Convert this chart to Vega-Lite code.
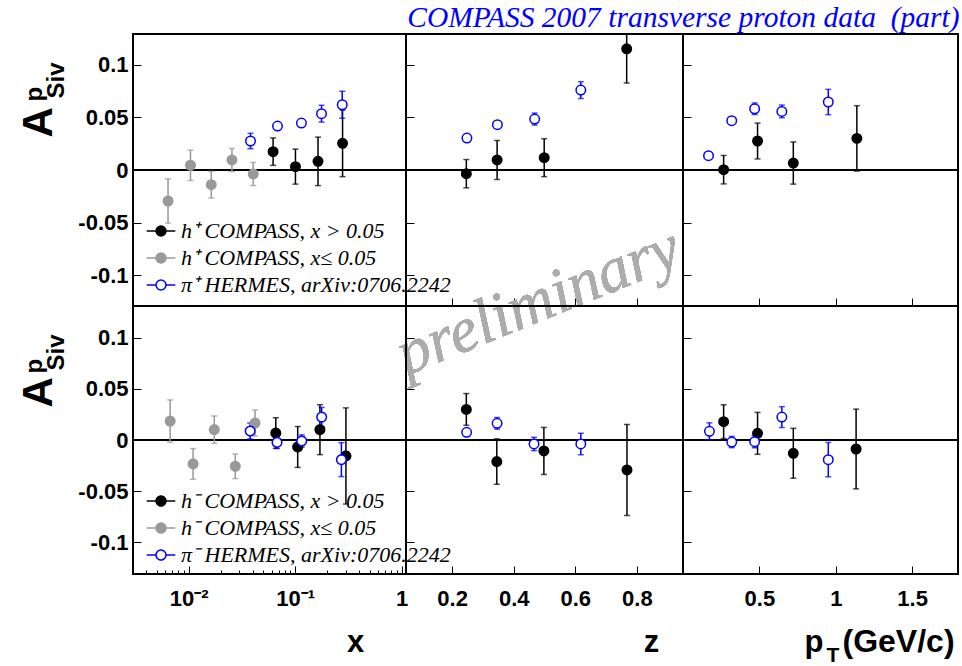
{
  "$schema": "https://vega.github.io/schema/vega-lite/v6.json",
  "background": "white",
  "padding": {"left": 16, "top": 2, "right": 0, "bottom": 0},
  "title": {"text": "COMPASS 2007 transverse proton data\u00a0 (part)", "anchor": "end", "frame": "bounds", "font": "Liberation Serif", "fontStyle": "italic", "fontWeight": "normal", "fontSize": 29.5, "color": "#0000ff", "offset": 0},
  "config": {
    "font": "Liberation Sans",
    "view": {"stroke": "black", "strokeWidth": 2},
    "axis": {"domain": false, "grid": false, "tickColor": "black", "tickWidth": 1, "labelColor": "black", "labelFont": "Liberation Sans", "labelFontWeight": "bold", "labelFontSize": 22, "titleColor": "black", "titleFont": "Liberation Sans", "titleFontWeight": "bold", "labelOverlap": false, "labelFlush": false}
  },
  "datasets": {
    "tl": [
      {"s": "h⁺ COMPASS, x≤ 0.05", "x": 0.0064, "a": -0.0294, "e": 0.021},
      {"s": "h⁺ COMPASS, x≤ 0.05", "x": 0.0104, "a": 0.0045, "e": 0.0145},
      {"s": "h⁺ COMPASS, x≤ 0.05", "x": 0.0163, "a": -0.0139, "e": 0.0126},
      {"s": "h⁺ COMPASS, x≤ 0.05", "x": 0.0255, "a": 0.0095, "e": 0.011},
      {"s": "h⁺ COMPASS, x≤ 0.05", "x": 0.0404, "a": -0.0038, "e": 0.011},
      {"s": "h⁺ COMPASS, x > 0.05", "x": 0.0621, "a": 0.0174, "e": 0.013},
      {"s": "h⁺ COMPASS, x > 0.05", "x": 0.1007, "a": 0.0032, "e": 0.0166},
      {"s": "h⁺ COMPASS, x > 0.05", "x": 0.164, "a": 0.0082, "e": 0.023},
      {"s": "h⁺ COMPASS, x > 0.05", "x": 0.279, "a": 0.0253, "e": 0.0316},
      {"s": "π⁺ HERMES, arXiv:0706.2242", "x": 0.0381, "a": 0.0275, "e": 0.0073},
      {"s": "π⁺ HERMES, arXiv:0706.2242", "x": 0.0683, "a": 0.0417, "e": 0.003},
      {"s": "π⁺ HERMES, arXiv:0706.2242", "x": 0.1146, "a": 0.0445, "e": 0.003},
      {"s": "π⁺ HERMES, arXiv:0706.2242", "x": 0.177, "a": 0.0534, "e": 0.008},
      {"s": "π⁺ HERMES, arXiv:0706.2242", "x": 0.277, "a": 0.0619, "e": 0.0128}
    ],
    "tm": [
      {"s": "h⁺ COMPASS, x > 0.05", "x": 0.246, "a": -0.0035, "e": 0.0134},
      {"s": "h⁺ COMPASS, x > 0.05", "x": 0.346, "a": 0.0095, "e": 0.0185},
      {"s": "h⁺ COMPASS, x > 0.05", "x": 0.499, "a": 0.0117, "e": 0.018},
      {"s": "h⁺ COMPASS, x > 0.05", "x": 0.767, "a": 0.115, "e": 0.0325},
      {"s": "π⁺ HERMES, arXiv:0706.2242", "x": 0.248, "a": 0.0303, "e": 0.003},
      {"s": "π⁺ HERMES, arXiv:0706.2242", "x": 0.347, "a": 0.043, "e": 0.003},
      {"s": "π⁺ HERMES, arXiv:0706.2242", "x": 0.468, "a": 0.0483, "e": 0.0057},
      {"s": "π⁺ HERMES, arXiv:0706.2242", "x": 0.618, "a": 0.0758, "e": 0.008}
    ],
    "tr": [
      {"s": "h⁺ COMPASS, x > 0.05", "x": 0.266, "a": 0.0003, "e": 0.0135},
      {"s": "h⁺ COMPASS, x > 0.05", "x": 0.488, "a": 0.0275, "e": 0.017},
      {"s": "h⁺ COMPASS, x > 0.05", "x": 0.722, "a": 0.0066, "e": 0.02},
      {"s": "h⁺ COMPASS, x > 0.05", "x": 1.138, "a": 0.03, "e": 0.031},
      {"s": "π⁺ HERMES, arXiv:0706.2242", "x": 0.167, "a": 0.0136, "e": 0.003},
      {"s": "π⁺ HERMES, arXiv:0706.2242", "x": 0.319, "a": 0.0468, "e": 0.003},
      {"s": "π⁺ HERMES, arXiv:0706.2242", "x": 0.469, "a": 0.0581, "e": 0.0055},
      {"s": "π⁺ HERMES, arXiv:0706.2242", "x": 0.647, "a": 0.0556, "e": 0.006},
      {"s": "π⁺ HERMES, arXiv:0706.2242", "x": 0.951, "a": 0.0645, "e": 0.012}
    ],
    "bl": [
      {"s": "h⁻ COMPASS, x≤ 0.05", "x": 0.0067, "a": 0.0185, "e": 0.0207},
      {"s": "h⁻ COMPASS, x≤ 0.05", "x": 0.011, "a": -0.0234, "e": 0.015},
      {"s": "h⁻ COMPASS, x≤ 0.05", "x": 0.0174, "a": 0.0101, "e": 0.0134},
      {"s": "h⁻ COMPASS, x≤ 0.05", "x": 0.0274, "a": -0.0257, "e": 0.012},
      {"s": "h⁻ COMPASS, x≤ 0.05", "x": 0.042, "a": 0.0166, "e": 0.0127},
      {"s": "h⁻ COMPASS, x > 0.05", "x": 0.0658, "a": 0.0068, "e": 0.015},
      {"s": "h⁻ COMPASS, x > 0.05", "x": 0.1057, "a": -0.0068, "e": 0.02},
      {"s": "h⁻ COMPASS, x > 0.05", "x": 0.171, "a": 0.0101, "e": 0.0244},
      {"s": "h⁻ COMPASS, x > 0.05", "x": 0.3, "a": -0.0156, "e": 0.047},
      {"s": "π⁻ HERMES, arXiv:0706.2242", "x": 0.0378, "a": 0.0088, "e": 0.0078},
      {"s": "π⁻ HERMES, arXiv:0706.2242", "x": 0.0676, "a": -0.0023, "e": 0.006},
      {"s": "π⁻ HERMES, arXiv:0706.2242", "x": 0.1153, "a": -0.001, "e": 0.006},
      {"s": "π⁻ HERMES, arXiv:0706.2242", "x": 0.1775, "a": 0.0224, "e": 0.0095},
      {"s": "π⁻ HERMES, arXiv:0706.2242", "x": 0.272, "a": -0.0192, "e": 0.0166}
    ],
    "bm": [
      {"s": "h⁻ COMPASS, x > 0.05", "x": 0.246, "a": 0.0299, "e": 0.0155},
      {"s": "h⁻ COMPASS, x > 0.05", "x": 0.345, "a": -0.0211, "e": 0.0222},
      {"s": "h⁻ COMPASS, x > 0.05", "x": 0.498, "a": -0.0107, "e": 0.023},
      {"s": "h⁻ COMPASS, x > 0.05", "x": 0.768, "a": -0.0293, "e": 0.0445},
      {"s": "π⁻ HERMES, arXiv:0706.2242", "x": 0.247, "a": 0.0075, "e": 0.003},
      {"s": "π⁻ HERMES, arXiv:0706.2242", "x": 0.346, "a": 0.0163, "e": 0.0057},
      {"s": "π⁻ HERMES, arXiv:0706.2242", "x": 0.466, "a": -0.0039, "e": 0.0065},
      {"s": "π⁻ HERMES, arXiv:0706.2242", "x": 0.618, "a": -0.0039, "e": 0.0105}
    ],
    "br": [
      {"s": "h⁻ COMPASS, x > 0.05", "x": 0.266, "a": 0.0179, "e": 0.0165},
      {"s": "h⁻ COMPASS, x > 0.05", "x": 0.488, "a": 0.0065, "e": 0.0205},
      {"s": "h⁻ COMPASS, x > 0.05", "x": 0.722, "a": -0.013, "e": 0.0244},
      {"s": "h⁻ COMPASS, x > 0.05", "x": 1.133, "a": -0.0088, "e": 0.039},
      {"s": "π⁻ HERMES, arXiv:0706.2242", "x": 0.173, "a": 0.0085, "e": 0.0083},
      {"s": "π⁻ HERMES, arXiv:0706.2242", "x": 0.319, "a": -0.002, "e": 0.0055},
      {"s": "π⁻ HERMES, arXiv:0706.2242", "x": 0.469, "a": -0.0016, "e": 0.006},
      {"s": "π⁻ HERMES, arXiv:0706.2242", "x": 0.647, "a": 0.0224, "e": 0.0102},
      {"s": "π⁻ HERMES, arXiv:0706.2242", "x": 0.951, "a": -0.0192, "e": 0.0168}
    ]
  },
  "columns": 3,
  "spacing": 0,
  "bounds": "flush",
  "resolve": {"scale": {"x": "independent", "y": "independent", "color": "shared", "fill": "shared", "stroke": "shared", "shape": "shared", "strokeDash": "shared"}, "axis": {"x": "independent", "y": "independent"}},
  "concat": [
    {
      "width": 273, "height": 272,
      "data": {"name": "tl"},
      "resolve": {"axis": {"y": "independent"}},
      "layer": [
        {"mark": {"type": "rule", "color": "black", "strokeWidth": 1},
         "encoding": {"y": {"datum": 0, "type": "quantitative", "scale": {"domain": [-0.129, 0.129], "nice": false, "zero": false},
           "axis": {"orient": "left", "labels": false, "ticks": false, "domain": false, "title": "Siv", "titleFontSize": 24, "titleAngle": 270, "titleAlign": "left", "titleBaseline": "alphabetic", "titleX": -70, "titleY": 64}}}},
        {"mark": {"type": "errorbar", "ticks": {"size": 6}, "thickness": 1.5, "clip": true},
         "encoding": {
           "x": {"field": "x", "type": "quantitative", "scale": {"type": "log", "domain": [0.003, 1.1], "nice": false},
             "axis": {"orient": "bottom", "values": [0.004,0.005,0.006,0.007,0.008,0.009,0.01,0.02,0.03,0.04,0.05,0.06,0.07,0.08,0.09,0.1,0.2,0.3,0.4,0.5,0.6,0.7,0.8,0.9,1], "tickSize": {"condition": {"test": "datum.value == 0.01 || datum.value == 0.1 || datum.value == 1", "value": -8}, "value": -4}, "labels": false, "title": null}},
           "y": {"field": "a", "type": "quantitative", "scale": {"domain": [-0.129, 0.129], "nice": false, "zero": false},
             "axis": {"orient": "left", "labels": false, "ticks": false, "domain": false, "title": "p", "titleFontSize": 24, "titleAngle": 270, "titleAlign": "left", "titleBaseline": "alphabetic", "titleX": -92, "titleY": 67}},
           "yError": {"field": "e"},
           "color": {"field": "s", "type": "nominal", "scale": {"domain": ["h⁺ COMPASS, x > 0.05", "h⁺ COMPASS, x≤ 0.05", "π⁺ HERMES, arXiv:0706.2242", "h⁻ COMPASS, x > 0.05", "h⁻ COMPASS, x≤ 0.05", "π⁻ HERMES, arXiv:0706.2242"], "range": ["black", "#999999", "#0000ff", "black", "#999999", "#0000ff"]}, "legend": null}}},
        {"mark": {"type": "point", "filled": true, "size": 90, "strokeWidth": 1.5, "opacity": 1},
         "encoding": {
           "x": {"field": "x", "type": "quantitative", "scale": {"type": "log", "domain": [0.003, 1.1], "nice": false},
             "axis": {"orient": "bottom", "values": [0.004,0.005,0.006,0.007,0.008,0.009,0.01,0.02,0.03,0.04,0.05,0.06,0.07,0.08,0.09,0.1,0.2,0.3,0.4,0.5,0.6,0.7,0.8,0.9,1], "tickSize": {"condition": {"test": "datum.value == 0.01 || datum.value == 0.1 || datum.value == 1", "value": -8}, "value": -4}, "labels": false, "title": null}},
           "y": {"field": "a", "type": "quantitative", "scale": {"domain": [-0.129, 0.129], "nice": false, "zero": false},
             "axis": {"orient": "left", "values": [-0.1, -0.05, 0, 0.05, 0.1], "tickSize": -8, "labelPadding": 13, "labelExpr": "datum.value == 0 ? '0' : (datum.value < 0 ? '-' : '') + format(abs(datum.value), '')", "title": "A", "titleFontSize": 42, "titleAngle": 270, "titleAlign": "left", "titleBaseline": "alphabetic", "titleX": -82, "titleY": 103}},
           "fill": {"field": "s", "type": "nominal", "scale": {"domain": ["h⁺ COMPASS, x > 0.05", "h⁺ COMPASS, x≤ 0.05", "π⁺ HERMES, arXiv:0706.2242", "h⁻ COMPASS, x > 0.05", "h⁻ COMPASS, x≤ 0.05", "π⁻ HERMES, arXiv:0706.2242"], "range": ["black", "#999999", "white", "black", "#999999", "white"]}, "legend": null},
           "stroke": {"field": "s", "type": "nominal", "scale": {"domain": ["h⁺ COMPASS, x > 0.05", "h⁺ COMPASS, x≤ 0.05", "π⁺ HERMES, arXiv:0706.2242", "h⁻ COMPASS, x > 0.05", "h⁻ COMPASS, x≤ 0.05", "π⁻ HERMES, arXiv:0706.2242"], "range": ["black", "#999999", "#0000ff", "black", "#999999", "#0000ff"]}, "legend": null}}},
        {"mark": {"type": "point", "size": 484, "strokeWidth": 1.5, "opacity": 0},
         "encoding": {
           "x": {"field": "x", "type": "quantitative", "scale": {"type": "log", "domain": [0.003, 1.1], "nice": false}, "axis": null},
           "y": {"field": "a", "type": "quantitative", "scale": {"domain": [-0.129, 0.129], "nice": false, "zero": false}, "axis": null},
           "shape": {"field": "s", "type": "nominal", "scale": {"domain": ["h⁺ COMPASS, x > 0.05", "h⁺ COMPASS, x≤ 0.05", "π⁺ HERMES, arXiv:0706.2242"], "range": ["M-1.3,0L-0.45,0M0.45,0L1.3,0M0.45,0A0.45,0.45,0,1,1,-0.45,0A0.45,0.45,0,1,1,0.45,0Z", "M-1.3,0L-0.45,0M0.45,0L1.3,0M0.45,0A0.45,0.45,0,1,1,-0.45,0A0.45,0.45,0,1,1,0.45,0Z", "M-1.3,0L-0.45,0M0.45,0L1.3,0M0.45,0A0.45,0.45,0,1,1,-0.45,0A0.45,0.45,0,1,1,0.45,0Z"]},
             "legend": {"orient": "none", "legendX": 16, "legendY": 185, "title": null, "symbolSize": 484, "symbolStrokeWidth": 1.5, "symbolOpacity": 1, "labelFont": "Liberation Serif", "labelFontStyle": "italic", "labelFontWeight": "normal", "labelFontSize": 22, "labelColor": "black", "labelOffset": 8, "rowPadding": 4, "padding": 0, "labelLimit": 400,
               "encoding": {"symbols": {
                 "size": {"value": 484},
                 "strokeWidth": {"value": 1.5},
                 "opacity": {"value": 1},
                 "fill": {"condition": [{"test": "indexof(datum.value, 'HERMES') >= 0", "value": "white"}, {"test": "indexof(datum.value, '≤') >= 0", "value": "#999999"}], "value": "black"},
                 "stroke": {"condition": [{"test": "indexof(datum.value, 'HERMES') >= 0", "value": "#0000ff"}, {"test": "indexof(datum.value, '≤') >= 0", "value": "#999999"}], "value": "black"}}}}}}}
      ]
    },
    {
      "width": 277, "height": 272,
      "data": {"name": "tm"},
      "layer": [
        {"mark": {"type": "rule", "color": "black", "strokeWidth": 1},
         "encoding": {"y": {"datum": 0, "type": "quantitative", "scale": {"domain": [-0.129, 0.129], "nice": false, "zero": false}}}},
        {"mark": {"type": "errorbar", "ticks": {"size": 6}, "thickness": 1.5, "clip": true},
         "encoding": {
           "x": {"field": "x", "type": "quantitative", "scale": {"domain": [0.05, 0.95], "nice": false, "zero": false},
             "axis": {"orient": "bottom", "values": [0.2, 0.4, 0.6, 0.8], "tickSize": -8, "labels": false, "title": null}},
           "y": {"field": "a", "type": "quantitative", "scale": {"domain": [-0.129, 0.129], "nice": false, "zero": false},
             "axis": {"orient": "left", "values": [-0.1, -0.05, 0, 0.05, 0.1], "tickSize": -8, "labels": false, "title": null}},
           "yError": {"field": "e"},
           "color": {"field": "s", "type": "nominal", "scale": {"domain": ["h⁺ COMPASS, x > 0.05", "h⁺ COMPASS, x≤ 0.05", "π⁺ HERMES, arXiv:0706.2242", "h⁻ COMPASS, x > 0.05", "h⁻ COMPASS, x≤ 0.05", "π⁻ HERMES, arXiv:0706.2242"], "range": ["black", "#999999", "#0000ff", "black", "#999999", "#0000ff"]}, "legend": null}}},
        {"mark": {"type": "point", "filled": true, "size": 90, "strokeWidth": 1.5, "opacity": 1},
         "encoding": {
           "x": {"field": "x", "type": "quantitative", "scale": {"domain": [0.05, 0.95], "nice": false, "zero": false},
             "axis": {"orient": "bottom", "values": [0.2, 0.4, 0.6, 0.8], "tickSize": -8, "labels": false, "title": null}},
           "y": {"field": "a", "type": "quantitative", "scale": {"domain": [-0.129, 0.129], "nice": false, "zero": false},
             "axis": {"orient": "left", "values": [-0.1, -0.05, 0, 0.05, 0.1], "tickSize": -8, "labels": false, "title": null}},
           "fill": {"field": "s", "type": "nominal", "scale": {"domain": ["h⁺ COMPASS, x > 0.05", "h⁺ COMPASS, x≤ 0.05", "π⁺ HERMES, arXiv:0706.2242", "h⁻ COMPASS, x > 0.05", "h⁻ COMPASS, x≤ 0.05", "π⁻ HERMES, arXiv:0706.2242"], "range": ["black", "#999999", "white", "black", "#999999", "white"]}, "legend": null},
           "stroke": {"field": "s", "type": "nominal", "scale": {"domain": ["h⁺ COMPASS, x > 0.05", "h⁺ COMPASS, x≤ 0.05", "π⁺ HERMES, arXiv:0706.2242", "h⁻ COMPASS, x > 0.05", "h⁻ COMPASS, x≤ 0.05", "π⁻ HERMES, arXiv:0706.2242"], "range": ["black", "#999999", "#0000ff", "black", "#999999", "#0000ff"]}, "legend": null}}},
        {"mark": {"type": "text", "text": "preliminary", "font": "Liberation Serif", "fontStyle": "italic", "fontSize": 64, "color": "#acacac", "angle": 338, "align": "center", "baseline": "middle"},
         "encoding": {"x": {"datum": 0.48, "type": "quantitative"}, "y": {"datum": -0.125, "type": "quantitative"}}}
      ]
    },
    {
      "width": 275, "height": 272,
      "data": {"name": "tr"},
      "layer": [
        {"mark": {"type": "rule", "color": "black", "strokeWidth": 1},
         "encoding": {"y": {"datum": 0, "type": "quantitative", "scale": {"domain": [-0.129, 0.129], "nice": false, "zero": false}}}},
        {"mark": {"type": "errorbar", "ticks": {"size": 6}, "thickness": 1.5, "clip": true},
         "encoding": {
           "x": {"field": "x", "type": "quantitative", "scale": {"domain": [0, 1.8], "nice": false, "zero": false},
             "axis": {"orient": "bottom", "values": [0.5, 1, 1.5], "tickSize": -8, "labels": false, "title": null}},
           "y": {"field": "a", "type": "quantitative", "scale": {"domain": [-0.129, 0.129], "nice": false, "zero": false},
             "axis": {"orient": "left", "values": [-0.1, -0.05, 0, 0.05, 0.1], "tickSize": -8, "labels": false, "title": null}},
           "yError": {"field": "e"},
           "color": {"field": "s", "type": "nominal", "scale": {"domain": ["h⁺ COMPASS, x > 0.05", "h⁺ COMPASS, x≤ 0.05", "π⁺ HERMES, arXiv:0706.2242", "h⁻ COMPASS, x > 0.05", "h⁻ COMPASS, x≤ 0.05", "π⁻ HERMES, arXiv:0706.2242"], "range": ["black", "#999999", "#0000ff", "black", "#999999", "#0000ff"]}, "legend": null}}},
        {"mark": {"type": "point", "filled": true, "size": 90, "strokeWidth": 1.5, "opacity": 1},
         "encoding": {
           "x": {"field": "x", "type": "quantitative", "scale": {"domain": [0, 1.8], "nice": false, "zero": false},
             "axis": {"orient": "bottom", "values": [0.5, 1, 1.5], "tickSize": -8, "labels": false, "title": null}},
           "y": {"field": "a", "type": "quantitative", "scale": {"domain": [-0.129, 0.129], "nice": false, "zero": false},
             "axis": {"orient": "left", "values": [-0.1, -0.05, 0, 0.05, 0.1], "tickSize": -8, "labels": false, "title": null}},
           "fill": {"field": "s", "type": "nominal", "scale": {"domain": ["h⁺ COMPASS, x > 0.05", "h⁺ COMPASS, x≤ 0.05", "π⁺ HERMES, arXiv:0706.2242", "h⁻ COMPASS, x > 0.05", "h⁻ COMPASS, x≤ 0.05", "π⁻ HERMES, arXiv:0706.2242"], "range": ["black", "#999999", "white", "black", "#999999", "white"]}, "legend": null},
           "stroke": {"field": "s", "type": "nominal", "scale": {"domain": ["h⁺ COMPASS, x > 0.05", "h⁺ COMPASS, x≤ 0.05", "π⁺ HERMES, arXiv:0706.2242", "h⁻ COMPASS, x > 0.05", "h⁻ COMPASS, x≤ 0.05", "π⁻ HERMES, arXiv:0706.2242"], "range": ["black", "#999999", "#0000ff", "black", "#999999", "#0000ff"]}, "legend": null}}}
      ]
    },
    {
      "width": 273, "height": 268,
      "data": {"name": "bl"},
      "resolve": {"axis": {"y": "independent"}},
      "layer": [
        {"mark": {"type": "rule", "color": "black", "strokeWidth": 1},
         "encoding": {"y": {"datum": 0, "type": "quantitative", "scale": {"domain": [-0.131, 0.131], "nice": false, "zero": false},
           "axis": {"orient": "left", "labels": false, "ticks": false, "domain": false, "title": "Siv", "titleFontSize": 24, "titleAngle": 270, "titleAlign": "left", "titleBaseline": "alphabetic", "titleX": -70, "titleY": 64}}}},
        {"mark": {"type": "errorbar", "ticks": {"size": 6}, "thickness": 1.5, "clip": true},
         "encoding": {
           "x": {"field": "x", "type": "quantitative", "scale": {"type": "log", "domain": [0.003, 1.1], "nice": false},
             "axis": {"orient": "bottom", "values": [0.004,0.005,0.006,0.007,0.008,0.009,0.01,0.02,0.03,0.04,0.05,0.06,0.07,0.08,0.09,0.1,0.2,0.3,0.4,0.5,0.6,0.7,0.8,0.9,1], "tickSize": {"condition": {"test": "datum.value == 0.01 || datum.value == 0.1 || datum.value == 1", "value": -8}, "value": -4}, "labelPadding": 22, "labelExpr": "datum.value == 0.01 ? '10⁻²' : datum.value == 0.1 ? '10⁻¹' : datum.value == 1 ? '1' : ''", "title": "x", "titleFontSize": 31, "titleX": 222, "titleY": 77, "titleAlign": "center", "titleBaseline": "alphabetic"}},
           "y": {"field": "a", "type": "quantitative", "scale": {"domain": [-0.131, 0.131], "nice": false, "zero": false},
             "axis": {"orient": "left", "labels": false, "ticks": false, "domain": false, "title": "p", "titleFontSize": 24, "titleAngle": 270, "titleAlign": "left", "titleBaseline": "alphabetic", "titleX": -92, "titleY": 67}},
           "yError": {"field": "e"},
           "color": {"field": "s", "type": "nominal", "scale": {"domain": ["h⁺ COMPASS, x > 0.05", "h⁺ COMPASS, x≤ 0.05", "π⁺ HERMES, arXiv:0706.2242", "h⁻ COMPASS, x > 0.05", "h⁻ COMPASS, x≤ 0.05", "π⁻ HERMES, arXiv:0706.2242"], "range": ["black", "#999999", "#0000ff", "black", "#999999", "#0000ff"]}, "legend": null}}},
        {"mark": {"type": "point", "filled": true, "size": 90, "strokeWidth": 1.5, "opacity": 1},
         "encoding": {
           "x": {"field": "x", "type": "quantitative", "scale": {"type": "log", "domain": [0.003, 1.1], "nice": false},
             "axis": {"orient": "bottom", "values": [0.004,0.005,0.006,0.007,0.008,0.009,0.01,0.02,0.03,0.04,0.05,0.06,0.07,0.08,0.09,0.1,0.2,0.3,0.4,0.5,0.6,0.7,0.8,0.9,1], "tickSize": {"condition": {"test": "datum.value == 0.01 || datum.value == 0.1 || datum.value == 1", "value": -8}, "value": -4}, "labelPadding": 22, "labelExpr": "datum.value == 0.01 ? '10⁻²' : datum.value == 0.1 ? '10⁻¹' : datum.value == 1 ? '1' : ''", "title": "x", "titleFontSize": 31, "titleX": 222, "titleY": 77, "titleAlign": "center", "titleBaseline": "alphabetic"}},
           "y": {"field": "a", "type": "quantitative", "scale": {"domain": [-0.131, 0.131], "nice": false, "zero": false},
             "axis": {"orient": "left", "values": [-0.1, -0.05, 0, 0.05, 0.1], "tickSize": -8, "labelPadding": 13, "labelExpr": "datum.value == 0 ? '0' : (datum.value < 0 ? '-' : '') + format(abs(datum.value), '')", "title": "A", "titleFontSize": 42, "titleAngle": 270, "titleAlign": "left", "titleBaseline": "alphabetic", "titleX": -82, "titleY": 101}},
           "fill": {"field": "s", "type": "nominal", "scale": {"domain": ["h⁺ COMPASS, x > 0.05", "h⁺ COMPASS, x≤ 0.05", "π⁺ HERMES, arXiv:0706.2242", "h⁻ COMPASS, x > 0.05", "h⁻ COMPASS, x≤ 0.05", "π⁻ HERMES, arXiv:0706.2242"], "range": ["black", "#999999", "white", "black", "#999999", "white"]}, "legend": null},
           "stroke": {"field": "s", "type": "nominal", "scale": {"domain": ["h⁺ COMPASS, x > 0.05", "h⁺ COMPASS, x≤ 0.05", "π⁺ HERMES, arXiv:0706.2242", "h⁻ COMPASS, x > 0.05", "h⁻ COMPASS, x≤ 0.05", "π⁻ HERMES, arXiv:0706.2242"], "range": ["black", "#999999", "#0000ff", "black", "#999999", "#0000ff"]}, "legend": null},
           "strokeDash": {"field": "s", "type": "nominal", "scale": {"domain": ["h⁻ COMPASS, x > 0.05", "h⁻ COMPASS, x≤ 0.05", "π⁻ HERMES, arXiv:0706.2242"], "range": [[1, 0], [1, 0], [1, 0]]},
             "legend": {"orient": "none", "legendX": 16, "legendY": 455, "title": null, "symbolSize": 484, "symbolStrokeWidth": 1.5, "symbolOpacity": 1, "labelFont": "Liberation Serif", "labelFontStyle": "italic", "labelFontWeight": "normal", "labelFontSize": 22, "labelColor": "black", "labelOffset": 8, "rowPadding": 4, "padding": 0, "labelLimit": 400,
               "encoding": {"symbols": {
                 "shape": {"value": "M-1.3,0L-0.45,0M0.45,0L1.3,0M0.45,0A0.45,0.45,0,1,1,-0.45,0A0.45,0.45,0,1,1,0.45,0Z"},
                 "size": {"value": 484},
                 "strokeWidth": {"value": 1.5},
                 "strokeDash": {"value": [1, 0]},
                 "opacity": {"value": 1},
                 "fill": {"condition": [{"test": "indexof(datum.value, 'HERMES') >= 0", "value": "white"}, {"test": "indexof(datum.value, '≤') >= 0", "value": "#999999"}], "value": "black"},
                 "stroke": {"condition": [{"test": "indexof(datum.value, 'HERMES') >= 0", "value": "#0000ff"}, {"test": "indexof(datum.value, '≤') >= 0", "value": "#999999"}], "value": "black"}}}}}}}
      ]
    },
    {
      "width": 277, "height": 268,
      "data": {"name": "bm"},
      "layer": [
        {"mark": {"type": "rule", "color": "black", "strokeWidth": 1},
         "encoding": {"y": {"datum": 0, "type": "quantitative", "scale": {"domain": [-0.131, 0.131], "nice": false, "zero": false}}}},
        {"mark": {"type": "errorbar", "ticks": {"size": 6}, "thickness": 1.5, "clip": true},
         "encoding": {
           "x": {"field": "x", "type": "quantitative", "scale": {"domain": [0.05, 0.95], "nice": false, "zero": false},
             "axis": {"orient": "bottom", "values": [0.2, 0.4, 0.6, 0.8], "tickSize": -8, "labelPadding": 22, "labelExpr": "format(datum.value, '')", "title": "z", "titleFontSize": 31, "titleX": 245, "titleY": 77, "titleAlign": "center", "titleBaseline": "alphabetic"}},
           "y": {"field": "a", "type": "quantitative", "scale": {"domain": [-0.131, 0.131], "nice": false, "zero": false},
             "axis": {"orient": "left", "values": [-0.1, -0.05, 0, 0.05, 0.1], "tickSize": -8, "labels": false, "title": null}},
           "yError": {"field": "e"},
           "color": {"field": "s", "type": "nominal", "scale": {"domain": ["h⁺ COMPASS, x > 0.05", "h⁺ COMPASS, x≤ 0.05", "π⁺ HERMES, arXiv:0706.2242", "h⁻ COMPASS, x > 0.05", "h⁻ COMPASS, x≤ 0.05", "π⁻ HERMES, arXiv:0706.2242"], "range": ["black", "#999999", "#0000ff", "black", "#999999", "#0000ff"]}, "legend": null}}},
        {"mark": {"type": "point", "filled": true, "size": 90, "strokeWidth": 1.5, "opacity": 1},
         "encoding": {
           "x": {"field": "x", "type": "quantitative", "scale": {"domain": [0.05, 0.95], "nice": false, "zero": false},
             "axis": {"orient": "bottom", "values": [0.2, 0.4, 0.6, 0.8], "tickSize": -8, "labelPadding": 22, "labelExpr": "format(datum.value, '')", "title": "z", "titleFontSize": 31, "titleX": 245, "titleY": 77, "titleAlign": "center", "titleBaseline": "alphabetic"}},
           "y": {"field": "a", "type": "quantitative", "scale": {"domain": [-0.131, 0.131], "nice": false, "zero": false},
             "axis": {"orient": "left", "values": [-0.1, -0.05, 0, 0.05, 0.1], "tickSize": -8, "labels": false, "title": null}},
           "fill": {"field": "s", "type": "nominal", "scale": {"domain": ["h⁺ COMPASS, x > 0.05", "h⁺ COMPASS, x≤ 0.05", "π⁺ HERMES, arXiv:0706.2242", "h⁻ COMPASS, x > 0.05", "h⁻ COMPASS, x≤ 0.05", "π⁻ HERMES, arXiv:0706.2242"], "range": ["black", "#999999", "white", "black", "#999999", "white"]}, "legend": null},
           "stroke": {"field": "s", "type": "nominal", "scale": {"domain": ["h⁺ COMPASS, x > 0.05", "h⁺ COMPASS, x≤ 0.05", "π⁺ HERMES, arXiv:0706.2242", "h⁻ COMPASS, x > 0.05", "h⁻ COMPASS, x≤ 0.05", "π⁻ HERMES, arXiv:0706.2242"], "range": ["black", "#999999", "#0000ff", "black", "#999999", "#0000ff"]}, "legend": null}}}
      ]
    },
    {
      "width": 275, "height": 268,
      "data": {"name": "br"},
      "resolve": {"axis": {"x": "independent"}},
      "layer": [
        {"mark": {"type": "rule", "color": "black", "strokeWidth": 1},
         "encoding": {"y": {"datum": 0, "type": "quantitative", "scale": {"domain": [-0.131, 0.131], "nice": false, "zero": false}}}},
        {"mark": {"type": "errorbar", "ticks": {"size": 6}, "thickness": 1.5, "clip": true},
         "encoding": {
           "x": {"field": "x", "type": "quantitative", "scale": {"domain": [0, 1.8], "nice": false, "zero": false},
             "axis": {"orient": "bottom", "labels": false, "ticks": false, "domain": false, "title": "T", "titleFontSize": 21, "titleX": 143, "titleY": 87, "titleAlign": "left", "titleBaseline": "alphabetic"}},
           "y": {"field": "a", "type": "quantitative", "scale": {"domain": [-0.131, 0.131], "nice": false, "zero": false},
             "axis": {"orient": "left", "values": [-0.1, -0.05, 0, 0.05, 0.1], "tickSize": -8, "labels": false, "title": null}},
           "yError": {"field": "e"},
           "color": {"field": "s", "type": "nominal", "scale": {"domain": ["h⁺ COMPASS, x > 0.05", "h⁺ COMPASS, x≤ 0.05", "π⁺ HERMES, arXiv:0706.2242", "h⁻ COMPASS, x > 0.05", "h⁻ COMPASS, x≤ 0.05", "π⁻ HERMES, arXiv:0706.2242"], "range": ["black", "#999999", "#0000ff", "black", "#999999", "#0000ff"]}, "legend": null}}},
        {"transform": [{"filter": "datum.s == 'h⁻ COMPASS, x > 0.05'"}],
         "mark": {"type": "point", "filled": true, "size": 90, "strokeWidth": 1.5, "opacity": 1},
         "encoding": {
           "x": {"field": "x", "type": "quantitative", "scale": {"domain": [0, 1.8], "nice": false, "zero": false},
             "axis": {"orient": "bottom", "values": [0.5, 1, 1.5], "tickSize": -8, "labelPadding": 22, "labelExpr": "format(datum.value, '')", "title": "p", "titleFontSize": 31, "titleX": 121, "titleY": 77, "titleAlign": "left", "titleBaseline": "alphabetic"}},
           "y": {"field": "a", "type": "quantitative", "scale": {"domain": [-0.131, 0.131], "nice": false, "zero": false},
             "axis": {"orient": "left", "values": [-0.1, -0.05, 0, 0.05, 0.1], "tickSize": -8, "labels": false, "title": null}},
           "fill": {"field": "s", "type": "nominal", "scale": {"domain": ["h⁺ COMPASS, x > 0.05", "h⁺ COMPASS, x≤ 0.05", "π⁺ HERMES, arXiv:0706.2242", "h⁻ COMPASS, x > 0.05", "h⁻ COMPASS, x≤ 0.05", "π⁻ HERMES, arXiv:0706.2242"], "range": ["black", "#999999", "white", "black", "#999999", "white"]}, "legend": null},
           "stroke": {"field": "s", "type": "nominal", "scale": {"domain": ["h⁺ COMPASS, x > 0.05", "h⁺ COMPASS, x≤ 0.05", "π⁺ HERMES, arXiv:0706.2242", "h⁻ COMPASS, x > 0.05", "h⁻ COMPASS, x≤ 0.05", "π⁻ HERMES, arXiv:0706.2242"], "range": ["black", "#999999", "#0000ff", "black", "#999999", "#0000ff"]}, "legend": null}}},
        {"transform": [{"filter": "datum.s == 'π⁻ HERMES, arXiv:0706.2242'"}],
         "mark": {"type": "point", "filled": true, "size": 90, "strokeWidth": 1.5, "opacity": 1},
         "encoding": {
           "x": {"field": "x", "type": "quantitative", "scale": {"domain": [0, 1.8], "nice": false, "zero": false},
             "axis": {"orient": "bottom", "labels": false, "ticks": false, "domain": false, "title": "(GeV/c)", "titleFontSize": 32, "titleX": 159, "titleY": 77, "titleAlign": "left", "titleBaseline": "alphabetic"}},
           "y": {"field": "a", "type": "quantitative", "scale": {"domain": [-0.131, 0.131], "nice": false, "zero": false},
             "axis": {"orient": "left", "values": [-0.1, -0.05, 0, 0.05, 0.1], "tickSize": -8, "labels": false, "title": null}},
           "fill": {"field": "s", "type": "nominal", "scale": {"domain": ["h⁺ COMPASS, x > 0.05", "h⁺ COMPASS, x≤ 0.05", "π⁺ HERMES, arXiv:0706.2242", "h⁻ COMPASS, x > 0.05", "h⁻ COMPASS, x≤ 0.05", "π⁻ HERMES, arXiv:0706.2242"], "range": ["black", "#999999", "white", "black", "#999999", "white"]}, "legend": null},
           "stroke": {"field": "s", "type": "nominal", "scale": {"domain": ["h⁺ COMPASS, x > 0.05", "h⁺ COMPASS, x≤ 0.05", "π⁺ HERMES, arXiv:0706.2242", "h⁻ COMPASS, x > 0.05", "h⁻ COMPASS, x≤ 0.05", "π⁻ HERMES, arXiv:0706.2242"], "range": ["black", "#999999", "#0000ff", "black", "#999999", "#0000ff"]}, "legend": null}}}
      ]
    }
  ]
}
